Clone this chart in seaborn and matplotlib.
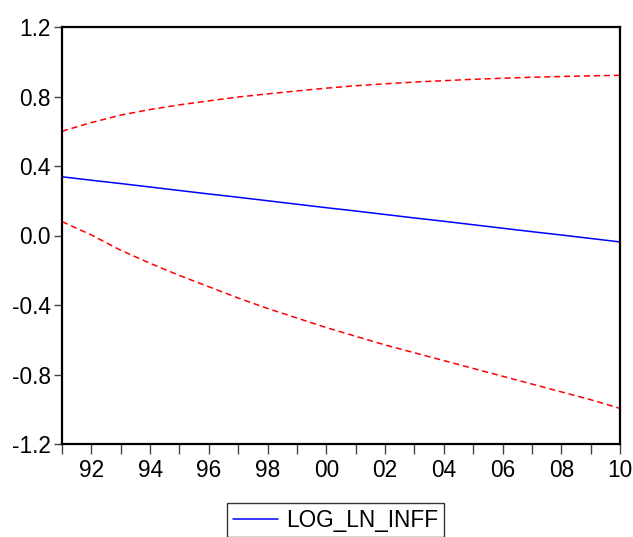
import matplotlib
matplotlib.use("Agg")
import matplotlib.pyplot as plt
import seaborn as sns
import numpy as np
import pandas as pd
from matplotlib.ticker import FixedLocator, FixedFormatter

years = list(range(1991, 2011))
forecast = [0.338, 0.318, 0.299, 0.279, 0.259, 0.239, 0.220, 0.200, 0.180, 0.160,
            0.141, 0.121, 0.101, 0.082, 0.062, 0.042, 0.022, 0.003, -0.017, -0.037]
upper = [0.600, 0.650, 0.693, 0.725, 0.752, 0.775, 0.797, 0.815, 0.832, 0.848,
         0.862, 0.873, 0.883, 0.891, 0.899, 0.905, 0.911, 0.915, 0.919, 0.922]
lower = [0.080, 0.003, -0.085, -0.160, -0.230, -0.295, -0.360, -0.420, -0.475, -0.530,
         -0.580, -0.630, -0.675, -0.720, -0.765, -0.810, -0.855, -0.900, -0.945, -0.995]
xtick_years = [1992, 1994, 1996, 1998, 2000, 2002, 2004, 2006, 2008, 2010]
xtick_labels = ["92", "94", "96", "98", "00", "02", "04", "06", "08", "10"]
ytick_vals = [-1.2, -0.8, -0.4, 0.0, 0.4, 0.8, 1.2]
ytick_labels = ["-1.2", "-0.8", "-0.4", "0.0", "0.4", "0.8", "1.2"]
series_name = "LOG_LN_INFF"

sns.set_style("white")
plt.rcParams["font.family"] = ["Liberation Sans", "DejaVu Sans"]
plt.rcParams["axes.unicode_minus"] = False
plt.rcParams["text.color"] = "black"

df = pd.DataFrame({"year": years, "forecast": forecast, "upper": upper, "lower": lower})

fig = plt.figure(figsize=(6.33, 5.37), dpi=100)
ax = fig.add_axes([62 / 633, 1 - 444 / 537, (620 - 62) / 633, (444 - 27) / 537])

sns.lineplot(data=df, x="year", y="forecast", color="blue", linewidth=1.1, ax=ax,
             label=series_name)
sns.lineplot(data=df, x="year", y="upper", color="red", linewidth=1.1, ax=ax,
             legend=False)
sns.lineplot(data=df, x="year", y="lower", color="red", linewidth=1.1, ax=ax,
             legend=False)
for ln in ax.lines[1:]:
    ln.set_linestyle((0, (4, 2.5)))

ax.set_xlim(1991, 2010)
ax.set_ylim(-1.2, 1.2)
ax.set_xlabel("")
ax.set_ylabel("")

ax.xaxis.set_major_locator(FixedLocator(xtick_years))
ax.xaxis.set_major_formatter(FixedFormatter(xtick_labels))
ax.xaxis.set_minor_locator(FixedLocator([y for y in years if y % 2 == 1]))
ax.yaxis.set_major_locator(FixedLocator(ytick_vals))
ax.yaxis.set_major_formatter(FixedFormatter(ytick_labels))

fs = 16.3
ax.tick_params(axis="x", which="both", direction="out", length=7, width=1,
               color="#444444", labelsize=fs, labelcolor="black", pad=4, bottom=True)
ax.tick_params(axis="y", which="major", direction="out", length=6, width=1,
               color="#444444", labelsize=fs, labelcolor="black", pad=2, left=True)
for s in ax.spines.values():
    s.set_visible(True)
    s.set_color("black")
    s.set_linewidth(1.6)

leg = ax.get_legend()
if leg is not None:
    leg.remove()
handles, labels = ax.get_legend_handles_labels()
lg = fig.legend(handles[:1], labels[:1], loc="upper left",
                bbox_to_anchor=(227 / 633, 1 - 503 / 537), borderaxespad=0,
                frameon=True, fancybox=False,
                edgecolor="black", fontsize=fs, handlelength=2.0, borderpad=0.25,
                handletextpad=0.35, labelcolor="black")
lg.get_frame().set_linewidth(1.0)

fig.savefig("out.png", dpi=100)
